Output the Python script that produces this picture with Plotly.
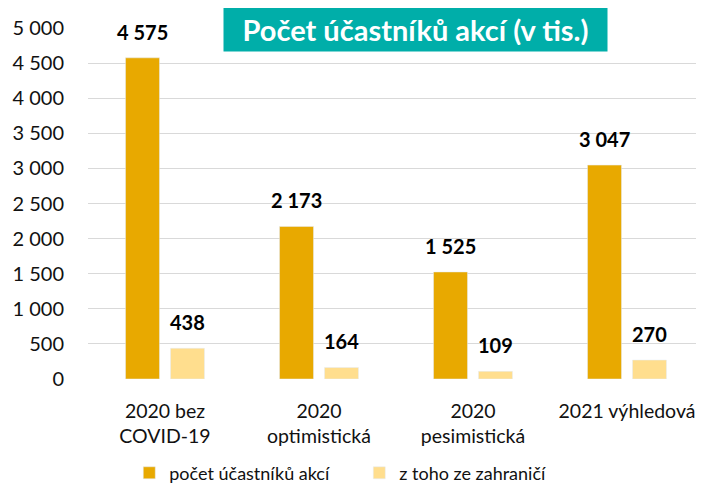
import plotly.graph_objects as go

categories = ["2020 bez<br>COVID-19", "2020<br>optimistická", "2020<br>pesimistická", "2021 výhledová"]
ucastnici = [4575, 2173, 1525, 3047]
zahranici = [438, 164, 109, 270]
y_ticks = [0, 500, 1000, 1500, 2000, 2500, 3000, 3500, 4000, 4500, 5000]

font_name = "Lato"
dark = "#E8A900"
light = "#FFDE8E"


def fmt(v):
    return f"{v:,}".replace(",", " ")


fig = go.Figure()
fig.add_trace(go.Bar(x=categories, y=ucastnici, name="počet účastníků akcí",
                     marker_color=dark))
fig.add_trace(go.Bar(x=categories, y=zahranici, name="z toho ze zahraničí",
                     marker_color=light))

# popisky hodnot nad sloupci
for cat, a, b in zip(categories, ucastnici, zahranici):
    for val, shift in ((a, -22.5), (b, 22.5)):
        fig.add_annotation(x=cat, y=val, xref="x", yref="y", text=f"<b>{fmt(val)}</b>",
                           showarrow=False, xshift=shift, yshift=12, yanchor="bottom",
                           font=dict(family=font_name, size=20, color="#000000"))

fig.add_annotation(xref="paper", yref="paper", x=0.532, y=0.997, yanchor="middle",
                   text="<b>Počet účastníků akcí (v tis.)</b>", showarrow=False,
                   bgcolor="#00AEA9", borderpad=6, width=371, height=31,
                   font=dict(family=font_name, size=29, color="#FFFFFF"))

# stránka má okraj 8 px, proto je graf o 8 px menší
fig.update_layout(
    width=696, height=477,
    margin=dict(l=80, r=0, t=20, b=106),
    barmode="group", bargap=0.416, bargroupgap=0.244,
    plot_bgcolor="white", paper_bgcolor="white",
    font=dict(family=font_name, size=20, color="#111111"),
    showlegend=True,
    legend=dict(orientation="h", x=0.067, xanchor="left", xref="paper",
                y=0.025, yanchor="middle", yref="container",
                font=dict(size=18), itemwidth=30, traceorder="normal",
                entrywidth=185, entrywidthmode="pixels"),
    xaxis=dict(showline=False, ticks="", tickfont=dict(size=19.5), automargin=False,
               ticklabelstandoff=18),
    yaxis=dict(range=[0, 5000], tickvals=y_ticks, ticktext=[fmt(v) for v in y_ticks],
               showgrid=True, gridcolor="#D9D9D9", gridwidth=1, zeroline=False,
               ticks="", ticklen=0, tickfont=dict(size=20), automargin=False,
               ticklabelstandoff=23),
)

fig.write_html("out.html")
